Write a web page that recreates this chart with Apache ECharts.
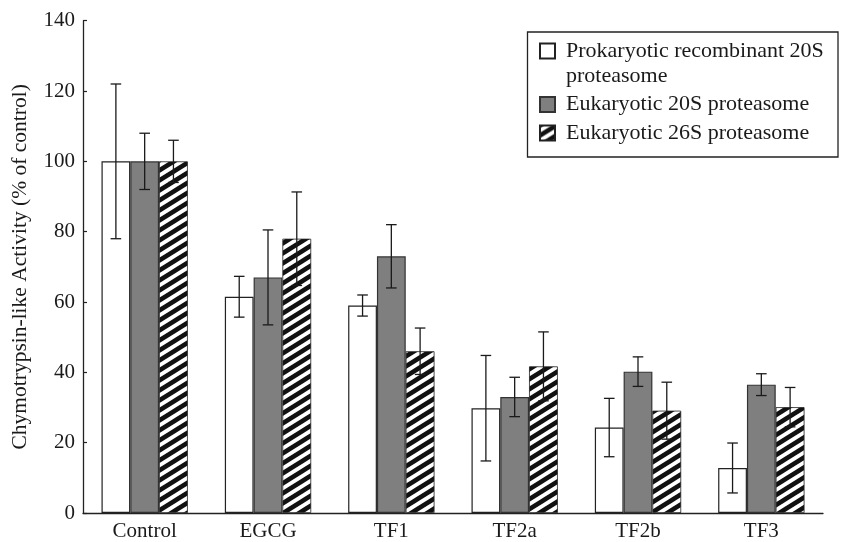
<!DOCTYPE html>
<html>
<head>
<meta charset="utf-8">
<script src="https://cdn.jsdelivr.net/npm/echarts@6/dist/echarts.min.js"></script>
<style>html,body{margin:0;padding:0;background:#fff}#c{width:849px;height:542px}</style>
</head>
<body>
<div id="c"></div>
<script>
// ---- data ----
var categories = ['Control', 'EGCG', 'TF1', 'TF2a', 'TF2b', 'TF3'];
var seriesNames = ['Prokaryotic recombinant 20S proteasome', 'Eukaryotic 20S proteasome', 'Eukaryotic 26S proteasome'];
var legendLabels = ['\u00a0\nProkaryotic recombinant 20S\nproteasome', 'Eukaryotic 20S proteasome', 'Eukaryotic 26S proteasome'];
var prokaryotic20S = [100, 61.5, 59, 29.8, 24.3, 12.8];
var prokaryotic20SErr = [22, 5.8, 3, 15, 8.3, 7.1];
var eukaryotic20S = [100, 67, 73, 33, 40.2, 36.5];
var eukaryotic20SErr = [8, 13.5, 9, 5.6, 4.2, 3.1];
var eukaryotic26S = [100, 78, 46, 41.7, 29.1, 30.1];
var eukaryotic26SErr = [6, 13.3, 6.6, 9.8, 8.1, 5.6];
var yTicks = [0, 20, 40, 60, 80, 100, 120, 140];

// ---- hatch pattern ----
function makeHatch() {
  var W = 16, H = 10;
  var cv = document.createElement('canvas');
  cv.width = W; cv.height = H;
  var ctx = cv.getContext('2d');
  ctx.fillStyle = '#ffffff';
  ctx.fillRect(0, 0, W, H);
  ctx.strokeStyle = '#111111';
  ctx.lineWidth = 4.6;
  for (var k = -2; k <= 2; k++) {
    ctx.beginPath();
    ctx.moveTo(-W, 2 * H + k * H);
    ctx.lineTo(2 * W, -H + k * H);
    ctx.stroke();
  }
  return cv;
}
var hatch = { image: makeHatch(), repeat: 'repeat' };

var chart = echarts.init(document.getElementById('c'), null, { renderer: 'canvas' });
var FONT = 'Liberation Serif';
var GAP = 0.3; // category gap fraction
var allVals = [prokaryotic20S, eukaryotic20S, eukaryotic26S];
var allErrs = [prokaryotic20SErr, eukaryotic20SErr, eukaryotic26SErr];

function errSeries(si) {
  var data = allVals[si].map(function (v, i) { return [i, v - allErrs[si][i], v + allErrs[si][i]]; });
  return {
    type: 'custom',
    z: 10,
    silent: true,
    data: data,
    renderItem: function (params, api) {
      var ci = api.value(0);
      var lo = api.coord([ci, api.value(1)]);
      var hi = api.coord([ci, api.value(2)]);
      var catW = api.size([1, 0])[0];
      var bw = catW * (1 - GAP) / 3;
      var x = lo[0] + (si - 1) * bw;
      var cap = 5.3;
      var st = { stroke: '#1a1a1a', lineWidth: 1.3 };
      return {
        type: 'group',
        children: [
          { type: 'line', shape: { x1: x, y1: lo[1], x2: x, y2: hi[1] }, style: st },
          { type: 'line', shape: { x1: x - cap, y1: lo[1], x2: x + cap, y2: lo[1] }, style: st },
          { type: 'line', shape: { x1: x - cap, y1: hi[1], x2: x + cap, y2: hi[1] }, style: st }
        ]
      };
    }
  };
}

var L = 25;
var option = {
  animation: false,
  backgroundColor: '#ffffff',
  textStyle: { fontFamily: FONT, color: '#1a1a1a' },
  grid: { left: 83, right: 26, top: 20.7, bottom: 27, containLabel: false },
  legend: {
    orient: 'vertical',
    left: 539,
    top: 51 - 1.5 * L,
    padding: 0,
    itemGap: 3.5,
    itemWidth: 15,
    itemHeight: 15,
    selectedMode: false,
    formatter: function (name) { return legendLabels[seriesNames.indexOf(name)]; },
    textStyle: { fontFamily: FONT, fontSize: 22, color: '#1a1a1a', lineHeight: L, padding: [0, 0, 0, 6] },
    data: [
      { name: seriesNames[0], icon: 'rect' },
      { name: seriesNames[1], icon: 'rect' },
      { name: seriesNames[2], icon: 'rect' }
    ]
  },
  graphic: [{
    type: 'rect',
    shape: { x: 527.5, y: 32, width: 310.5, height: 125 },
    style: { fill: 'none', stroke: '#222', lineWidth: 1.3 },
    silent: true
  }],
  xAxis: {
    type: 'category',
    data: categories,
    axisLine: { lineStyle: { color: '#222', width: 1.3 } },
    axisTick: { inside: true, length: 5, lineStyle: { color: '#222', width: 1.2 } },
    axisLabel: { fontFamily: FONT, fontSize: 21, color: '#1a1a1a', margin: 8 }
  },
  yAxis: {
    type: 'value',
    min: yTicks[0],
    max: yTicks[yTicks.length - 1],
    interval: yTicks[1] - yTicks[0],
    name: 'Chymotrypsin-like Activity (% of control)',
    nameLocation: 'middle',
    nameGap: 52,
    nameTextStyle: { fontFamily: FONT, fontSize: 21.5, color: '#1a1a1a' },
    axisLine: { show: true, lineStyle: { color: '#222', width: 1.3 } },
    axisTick: { show: true, inside: true, length: 4, lineStyle: { color: '#222', width: 1.2 } },
    axisLabel: { fontFamily: FONT, fontSize: 21, color: '#1a1a1a', margin: 8 },
    splitLine: { show: false }
  },
  series: [
    {
      name: seriesNames[0], type: 'bar', data: prokaryotic20S,
      barGap: '0%', barCategoryGap: (GAP * 100) + '%',
      itemStyle: { color: '#ffffff', borderColor: '#222', borderWidth: 1.2 }
    },
    {
      name: seriesNames[1], type: 'bar', data: eukaryotic20S,
      barGap: '0%', barCategoryGap: (GAP * 100) + '%',
      itemStyle: { color: '#7f7f7f', borderColor: '#333', borderWidth: 1.2 }
    },
    {
      name: seriesNames[2], type: 'bar', data: eukaryotic26S,
      barGap: '0%', barCategoryGap: (GAP * 100) + '%',
      itemStyle: { color: hatch, borderColor: '#222', borderWidth: 0.8 }
    },
    errSeries(0), errSeries(1), errSeries(2)
  ]
};
chart.setOption(option);
</script>
</body>
</html>
